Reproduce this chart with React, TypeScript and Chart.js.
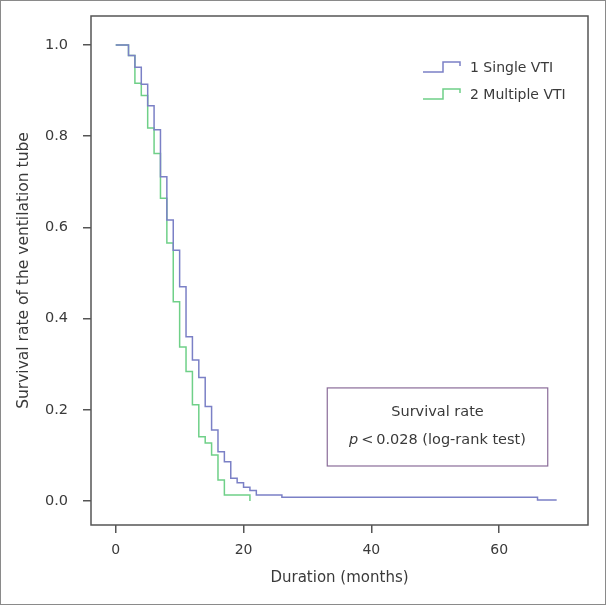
import React, { useEffect, useRef } from "react";
import { Chart, registerables } from "chart.js";

Chart.register(...registerables);

// ---- data ----
const singleTimes = [0, 2, 3, 4, 5, 6, 7, 8, 9, 10, 11, 12, 13, 14, 15, 16, 17, 18, 19, 20, 21, 22, 26, 66, 69];
const singleSurvival = [1.0, 0.977, 0.951, 0.914, 0.867, 0.814, 0.711, 0.616, 0.55, 0.47, 0.36, 0.309, 0.271, 0.207, 0.156, 0.108, 0.086, 0.05, 0.04, 0.03, 0.023, 0.013, 0.008, 0.002, 0.002];

const multipleTimes = [0, 2, 3, 4, 5, 6, 7, 8, 9, 10, 11, 12, 13, 14, 15, 16, 17, 21];
const multipleSurvival = [1.0, 0.977, 0.916, 0.889, 0.818, 0.762, 0.664, 0.566, 0.437, 0.338, 0.284, 0.211, 0.141, 0.127, 0.101, 0.046, 0.013, 0.0];

const seriesLabels = ["1 Single VTI", "2 Multiple VTI"];
const xTickValues = [0, 20, 40, 60];
const yTickValues = [0, 0.2, 0.4, 0.6, 0.8, 1.0];
const xTitle = "Duration (months)";
const yTitle = "Survival rate of the ventilation tube";
const noteTitle = "Survival rate";
const noteItalic = "p";
const noteRest = "\u2009<\u20090.028 (log-rank test)";

// ---- styling ----
const FONT = "'DejaVu Sans', sans-serif";
const TEXT = "#3a3a3a";
const FRAME = "#555555";
const COLORS = ["#7b80c6", "#6fd088"];
const NOTE_BOX = { x0: 33.1, x1: 67.6, y0: 0.248, y1: 0.0768 };

export default function App() {
  const ref = useRef<HTMLCanvasElement | null>(null);

  useEffect(() => {
    const canvas = ref.current;
    if (!canvas) return;

    const framePlugin = {
      id: "framePlugin",
      beforeDraw(chart: any) {
        const { ctx, width, height } = chart;
        ctx.save();
        ctx.fillStyle = "#ffffff";
        ctx.fillRect(0, 0, width, height);
        ctx.strokeStyle = "#8a8a8a";
        ctx.lineWidth = 1;
        ctx.strokeRect(0.5, 0.5, width - 1, height - 1);
        ctx.restore();
      },
      afterDatasetsDraw(chart: any) {
        const { ctx, chartArea: a, scales } = chart;
        ctx.save();
        ctx.strokeStyle = FRAME;
        ctx.lineWidth = 1.5;
        ctx.strokeRect(a.left, a.top, a.right - a.left, a.bottom - a.top);

        // legend with step-shaped icons
        ctx.font = `14px ${FONT}`;
        ctx.textBaseline = "middle";
        ctx.textAlign = "left";
        seriesLabels.forEach((lab, i) => {
          const y = a.top + 51 + i * 27;
          const x0 = a.right - 165;
          ctx.strokeStyle = COLORS[i];
          ctx.lineWidth = 1.5;
          ctx.beginPath();
          ctx.moveTo(x0, y + 5);
          ctx.lineTo(x0 + 20, y + 5);
          ctx.lineTo(x0 + 20, y - 5);
          ctx.lineTo(x0 + 37, y - 5);
          ctx.lineTo(x0 + 37, y - 1);
          ctx.stroke();
          ctx.fillStyle = TEXT;
          ctx.fillText(lab, x0 + 47, y + 1);
        });

        // annotation box
        const xs = scales.x;
        const ys = scales.y;
        const bx0 = xs.getPixelForValue(NOTE_BOX.x0);
        const bx1 = xs.getPixelForValue(NOTE_BOX.x1);
        const by0 = ys.getPixelForValue(NOTE_BOX.y0);
        const by1 = ys.getPixelForValue(NOTE_BOX.y1);
        ctx.strokeStyle = "#8a6c99";
        ctx.lineWidth = 1.2;
        ctx.strokeRect(bx0, by0, bx1 - bx0, by1 - by0);
        const cx = (bx0 + bx1) / 2;
        const h = by1 - by0;
        ctx.fillStyle = TEXT;
        ctx.textAlign = "center";
        ctx.font = `14.5px ${FONT}`;
        ctx.fillText(noteTitle, cx, by0 + h * 0.31);
        ctx.font = `italic 14.5px ${FONT}`;
        const wI = ctx.measureText(noteItalic).width;
        ctx.font = `14.5px ${FONT}`;
        const wR = ctx.measureText(noteRest).width;
        const startX = cx - (wI + wR) / 2;
        const ly = by0 + h * 0.67;
        ctx.textAlign = "left";
        ctx.font = `italic 14.5px ${FONT}`;
        ctx.fillText(noteItalic, startX, ly);
        ctx.font = `14.5px ${FONT}`;
        ctx.fillText(noteRest, startX + wI, ly);
        ctx.restore();
      },
    };

    const toPoints = (xs: number[], ys: number[]) => xs.map((x, i) => ({ x, y: ys[i] }));

    const chart = new Chart(canvas, {
      type: "line",
      data: {
        datasets: [
          {
            label: seriesLabels[0],
            data: toPoints(singleTimes, singleSurvival),
            borderColor: COLORS[0],
            borderWidth: 1.5,
            pointRadius: 0,
            stepped: "before",
            fill: false,
          },
          {
            label: seriesLabels[1],
            data: toPoints(multipleTimes, multipleSurvival),
            borderColor: COLORS[1],
            borderWidth: 1.5,
            pointRadius: 0,
            stepped: "before",
            fill: false,
          },
        ],
      },
      options: {
        responsive: false,
        animation: false,
        layout: { padding: { top: 16, right: 18, left: 0, bottom: 0 } },
        plugins: { legend: { display: false }, tooltip: { enabled: false } },
        scales: {
          x: {
            type: "linear",
            min: -3.87,
            max: 73.9,
            afterFit: (s: any) => {
              s.height = 80;
              s.paddingLeft = 0;
              s.paddingRight = 0;
            },
            afterBuildTicks: (s: any) => {
              s.ticks = xTickValues.map((v) => ({ value: v }));
            },
            border: { display: false },
            grid: { drawOnChartArea: false, drawTicks: true, tickLength: 8, color: FRAME, lineWidth: 1.5 },
            ticks: {
              color: TEXT,
              font: { family: FONT, size: 14 },
              padding: 9,
              maxRotation: 0,
              callback: (v: any) => String(v),
            },
            title: {
              display: true,
              text: xTitle,
              color: TEXT,
              font: { family: FONT, size: 15 },
              padding: { top: 0, bottom: 18 },
            },
          },
          y: {
            type: "linear",
            min: -0.0526,
            max: 1.0636,
            afterFit: (s: any) => {
              s.width = 91;
              s.paddingTop = 0;
              s.paddingBottom = 0;
            },
            afterBuildTicks: (s: any) => {
              s.ticks = yTickValues.map((v) => ({ value: v }));
            },
            border: { display: false },
            grid: { drawOnChartArea: false, drawTicks: true, tickLength: 8, color: FRAME, lineWidth: 1.5 },
            ticks: {
              color: TEXT,
              font: { family: FONT, size: 14.5 },
              padding: 15,
              callback: (v: any) => Number(v).toFixed(1),
            },
            title: {
              display: true,
              text: yTitle,
              color: TEXT,
              font: { family: FONT, size: 15.5 },
              padding: { top: 15, bottom: 0 },
            },
          },
        },
      },
      plugins: [framePlugin],
    });

    return () => chart.destroy();
  }, []);

  return (
    <div style={{ position: "absolute", left: 0, top: 0, width: 606, height: 605 }}>
      <canvas ref={ref} width={606} height={605} style={{ display: "block" }} />
    </div>
  );
}
